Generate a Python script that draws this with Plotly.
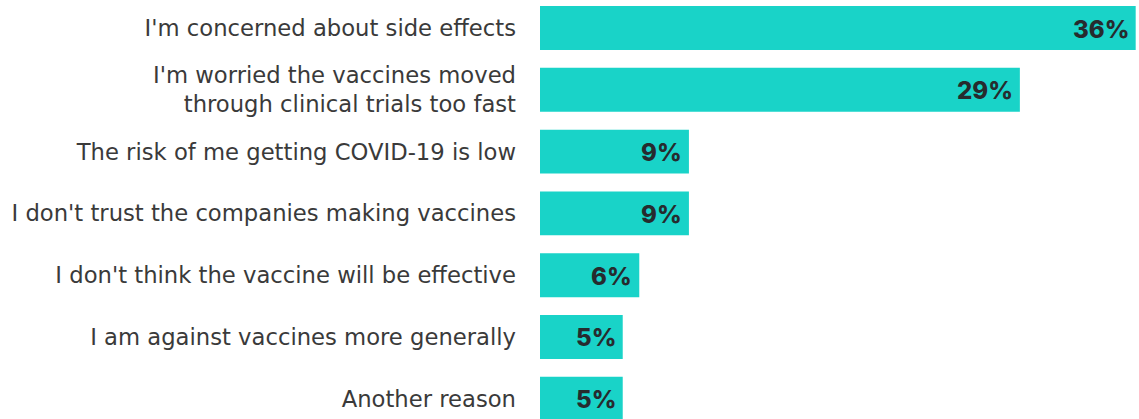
import plotly.graph_objects as go

categories = [
    "I'm concerned about side effects",
    "I'm worried the vaccines moved<br>through clinical trials too fast",
    "The risk of me getting COVID-19 is low",
    "I don't trust the companies making vaccines",
    "I don't think the vaccine will be effective",
    "I am against vaccines more generally",
    "Another reason",
]
values = [36, 29, 9, 9, 6, 5, 5]
value_labels = ["36%", "29%", "9%", "9%", "6%", "5%", "5%"]

ypos = list(range(len(categories)))

fig = go.Figure()
fig.add_trace(go.Bar(
    x=values, y=ypos, orientation="h",
    marker=dict(color="#19d3c8", line=dict(width=0)),
    width=0.71,
    hoverinfo="skip",
))

for v, y, t in zip(values, ypos, value_labels):
    fig.add_annotation(
        x=v, y=y, text=t, xanchor="right", yanchor="middle",
        xshift=-5, yshift=-1, showarrow=False,
        font=dict(family="Inter", size=24, color="#262b2e", weight=800),
    )

fig.update_layout(
    width=1139, height=419,
    margin=dict(l=540, r=0, t=0, b=0),
    paper_bgcolor="white", plot_bgcolor="white",
    showlegend=False,
    xaxis=dict(range=[0, 36.2], visible=False, fixedrange=True),
    yaxis=dict(
        range=[6.327, -0.453],
        tickmode="array", tickvals=ypos, ticktext=categories,
        showgrid=False, zeroline=False, showline=False, ticks="",
        ticklabelstandoff=23,
        tickfont=dict(family="DejaVu Sans", size=22.7, color="#3a3a3a"),
    ),
)

fig.write_html("out.html")
